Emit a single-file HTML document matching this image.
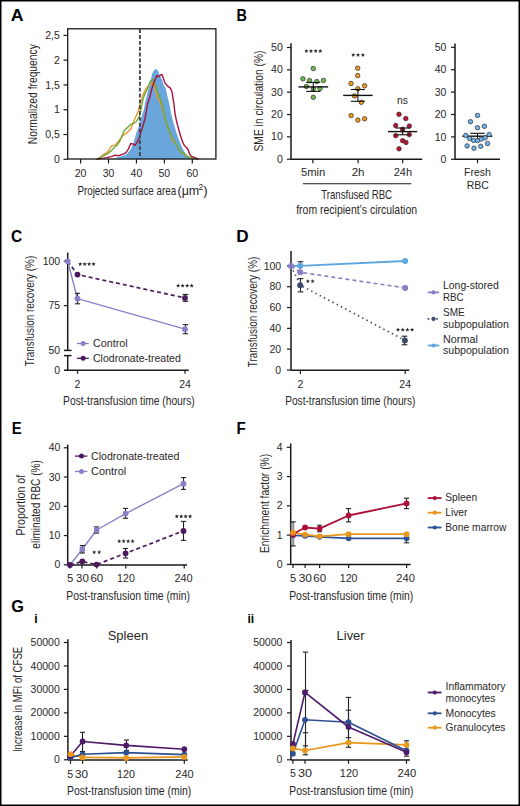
<!DOCTYPE html>
<html><head><meta charset="utf-8"><style>
html,body{margin:0;padding:0;background:#fff;}
svg{display:block;}
text{font-family:"Liberation Sans", sans-serif;}
</style></head><body>
<svg width="520" height="806" viewBox="0 0 520 806">
<rect width="520" height="806" fill="#fff"/>
<text x="10.70" y="20.80" font-size="16" text-anchor="start" fill="#000" font-weight="bold" textLength="12.80" lengthAdjust="spacingAndGlyphs" >A</text>
<path d="M 108.0,159.3 L 112.0,159.0 L 119.0,157.1 L 123.0,155.8 L 126.7,154.2 L 130.6,149.4 L 133.5,142.7 L 136.3,133.1 L 139.2,125.4 L 142.1,114.8 L 143.7,110.0 L 145.5,101.0 L 147.5,92.7 L 150.4,82.1 L 152.3,73.5 L 154.2,70.1 L 156.2,69.1 L 158.1,71.1 L 159.0,73.5 L 160.5,76.5 L 161.9,79.2 L 163.8,85.0 L 165.8,88.8 L 167.7,97.5 L 169.6,105.2 L 171.3,114.6 L 173.3,122.3 L 175.7,130.0 L 178.1,137.7 L 180.5,143.5 L 182.9,149.2 L 185.8,154.0 L 188.7,157.4 L 191.5,159.0 L 192.5,159.3 Z" fill="#6aa6dc"/>
<polyline points="97.00,159.30 99.80,158.10 102.70,155.20 105.60,153.30 108.50,151.30 110.40,147.50 112.30,145.60 115.20,145.10 118.10,141.70 121.00,137.90 123.80,135.00 127.70,132.10 130.60,129.20 132.50,124.40 134.40,119.60 136.30,115.80 138.30,111.00 138.80,109.00 140.80,102.30 142.70,95.60 144.60,91.30 146.50,87.90 149.40,85.50 151.30,83.60 152.80,82.60 153.80,84.50 155.20,88.80 156.60,94.60 157.60,98.50 159.00,99.40 160.50,103.30 161.30,105.00 163.70,113.70 165.10,119.40 167.00,125.20 169.90,132.90 172.30,139.60 173.80,142.00 175.70,143.50 178.60,148.80 181.00,152.60 183.80,154.00 186.70,156.40 190.60,157.90 197.30,159.00 199.00,159.20" fill="none" stroke="#e8952a" stroke-width="1.4" stroke-linejoin="round" />
<polyline points="96.00,159.30 97.90,158.60 102.70,156.20 107.50,153.80 111.30,150.90 114.20,147.50 117.10,145.10 120.00,140.80 121.90,136.00 123.80,131.20 126.70,128.30 130.60,124.40 133.50,123.50 136.30,121.50 139.20,116.70 140.80,111.00 142.70,100.40 144.60,94.60 147.50,88.80 149.40,83.10 151.30,80.20 152.80,79.20 154.20,81.20 155.70,86.00 157.60,91.70 159.50,96.50 161.40,102.30 162.50,106.00 164.10,114.60 166.50,123.30 169.40,131.00 172.80,138.70 175.70,143.50 178.60,148.30 181.00,152.10 183.80,153.60 186.70,156.00 190.60,157.70 195.40,158.90 197.00,159.20" fill="none" stroke="#6aab3b" stroke-width="1.4" stroke-linejoin="round" />
<polyline points="97.00,159.20 100.80,158.60 106.50,157.60 111.30,156.60 115.20,155.20 119.00,155.70 122.90,154.20 125.80,152.80 128.20,149.40 130.60,143.70 132.50,143.70 134.90,145.40 137.30,142.20 139.20,137.90 141.20,131.20 143.10,125.40 145.00,118.70 146.50,110.00 147.50,104.00 149.40,98.50 151.30,90.80 153.30,84.00 155.20,79.20 157.10,75.40 158.60,76.80 160.50,74.90 161.90,74.40 163.40,78.30 164.80,82.60 166.70,85.00 168.70,86.90 170.60,88.40 172.00,91.70 173.00,98.50 173.90,103.30 174.60,110.00 175.20,114.60 176.60,121.30 178.60,129.00 180.50,135.80 182.40,141.50 184.30,145.40 186.30,147.30 188.20,149.70 189.60,154.00 191.50,156.40 194.40,157.40 197.30,158.70 199.00,159.20" fill="none" stroke="#a8123f" stroke-width="1.4" stroke-linejoin="round" />
<line x1="139.90" y1="29.20" x2="139.90" y2="158.50" stroke="#454545" stroke-width="1.9" stroke-dasharray="3.9,1.95"/>
<rect x="67.7" y="28.8" width="148.2" height="130.2" fill="none" stroke="#1a1a1a" stroke-width="1.3"/>
<line x1="63.50" y1="159.30" x2="67.70" y2="159.30" stroke="#1a1a1a" stroke-width="1.2" />
<text x="59.80" y="162.90" font-size="10.5" text-anchor="end" fill="#2a2728" >0</text>
<line x1="63.50" y1="134.52" x2="67.70" y2="134.52" stroke="#1a1a1a" stroke-width="1.2" />
<text x="59.80" y="138.12" font-size="10.5" text-anchor="end" fill="#2a2728" >0,5</text>
<line x1="63.50" y1="109.74" x2="67.70" y2="109.74" stroke="#1a1a1a" stroke-width="1.2" />
<text x="59.80" y="113.34" font-size="10.5" text-anchor="end" fill="#2a2728" >1</text>
<line x1="63.50" y1="84.96" x2="67.70" y2="84.96" stroke="#1a1a1a" stroke-width="1.2" />
<text x="59.80" y="88.56" font-size="10.5" text-anchor="end" fill="#2a2728" >1,5</text>
<line x1="63.50" y1="60.18" x2="67.70" y2="60.18" stroke="#1a1a1a" stroke-width="1.2" />
<text x="59.80" y="63.78" font-size="10.5" text-anchor="end" fill="#2a2728" >2</text>
<line x1="63.50" y1="35.40" x2="67.70" y2="35.40" stroke="#1a1a1a" stroke-width="1.2" />
<text x="59.80" y="39.00" font-size="10.5" text-anchor="end" fill="#2a2728" >2,5</text>
<line x1="80.60" y1="159.00" x2="80.60" y2="163.50" stroke="#1a1a1a" stroke-width="1.2" />
<text x="80.60" y="177.00" font-size="10.5" text-anchor="middle" fill="#2a2728" >20</text>
<line x1="108.52" y1="159.00" x2="108.52" y2="163.50" stroke="#1a1a1a" stroke-width="1.2" />
<text x="108.52" y="177.00" font-size="10.5" text-anchor="middle" fill="#2a2728" >30</text>
<line x1="136.45" y1="159.00" x2="136.45" y2="163.50" stroke="#1a1a1a" stroke-width="1.2" />
<text x="136.45" y="177.00" font-size="10.5" text-anchor="middle" fill="#2a2728" >40</text>
<line x1="164.38" y1="159.00" x2="164.38" y2="163.50" stroke="#1a1a1a" stroke-width="1.2" />
<text x="164.38" y="177.00" font-size="10.5" text-anchor="middle" fill="#2a2728" >50</text>
<line x1="192.30" y1="159.00" x2="192.30" y2="163.50" stroke="#1a1a1a" stroke-width="1.2" />
<text x="192.30" y="177.00" font-size="10.5" text-anchor="middle" fill="#2a2728" >60</text>
<text x="77.40" y="195.00" font-size="13.2" text-anchor="start" fill="#2a2728" textLength="98.80" lengthAdjust="spacingAndGlyphs" >Projected surface area</text>
<text x="177.50" y="195.00" font-size="13.2" text-anchor="start" fill="#2a2728" textLength="21.70" lengthAdjust="spacingAndGlyphs" >(μm</text>
<text x="198.60" y="190.00" font-size="8.5" text-anchor="start" fill="#2a2728" >2</text>
<text x="203.20" y="195.00" font-size="13.2" text-anchor="start" fill="#2a2728" >)</text>
<text x="37.00" y="94.20" font-size="13.6" text-anchor="middle" fill="#2a2728" transform="rotate(-90 37.00 94.20)" textLength="100.00" lengthAdjust="spacingAndGlyphs">Normalized frequency</text>
<text x="236.40" y="20.80" font-size="16" text-anchor="start" fill="#000" font-weight="bold" textLength="10.40" lengthAdjust="spacingAndGlyphs" >B</text>
<line x1="291.00" y1="43.30" x2="291.00" y2="159.20" stroke="#1a1a1a" stroke-width="1.5" />
<line x1="291.00" y1="159.20" x2="422.20" y2="159.20" stroke="#1a1a1a" stroke-width="1.5" />
<line x1="287.00" y1="159.20" x2="291.00" y2="159.20" stroke="#1a1a1a" stroke-width="1.2" />
<text x="282.80" y="162.80" font-size="10.5" text-anchor="end" fill="#2a2728" >0</text>
<line x1="287.00" y1="136.86" x2="291.00" y2="136.86" stroke="#1a1a1a" stroke-width="1.2" />
<text x="282.80" y="140.46" font-size="10.5" text-anchor="end" fill="#2a2728" >10</text>
<line x1="287.00" y1="114.52" x2="291.00" y2="114.52" stroke="#1a1a1a" stroke-width="1.2" />
<text x="282.80" y="118.12" font-size="10.5" text-anchor="end" fill="#2a2728" >20</text>
<line x1="287.00" y1="92.18" x2="291.00" y2="92.18" stroke="#1a1a1a" stroke-width="1.2" />
<text x="282.80" y="95.78" font-size="10.5" text-anchor="end" fill="#2a2728" >30</text>
<line x1="287.00" y1="69.84" x2="291.00" y2="69.84" stroke="#1a1a1a" stroke-width="1.2" />
<text x="282.80" y="73.44" font-size="10.5" text-anchor="end" fill="#2a2728" >40</text>
<line x1="287.00" y1="47.50" x2="291.00" y2="47.50" stroke="#1a1a1a" stroke-width="1.2" />
<text x="282.80" y="51.10" font-size="10.5" text-anchor="end" fill="#2a2728" >50</text>
<line x1="312.90" y1="159.20" x2="312.90" y2="163.30" stroke="#1a1a1a" stroke-width="1.2" />
<line x1="358.10" y1="159.20" x2="358.10" y2="163.30" stroke="#1a1a1a" stroke-width="1.2" />
<line x1="402.70" y1="159.20" x2="402.70" y2="163.30" stroke="#1a1a1a" stroke-width="1.2" />
<text x="300.95" y="176.00" font-size="10.5" text-anchor="start" fill="#2a2728" textLength="24.35" lengthAdjust="spacingAndGlyphs" >5min</text>
<text x="351.70" y="176.00" font-size="10.5" text-anchor="start" fill="#2a2728" textLength="12.85" lengthAdjust="spacingAndGlyphs" >2h</text>
<text x="393.70" y="176.00" font-size="10.5" text-anchor="start" fill="#2a2728" textLength="18.35" lengthAdjust="spacingAndGlyphs" >24h</text>
<line x1="303.00" y1="183.75" x2="411.25" y2="183.75" stroke="#1a1a1a" stroke-width="1.2" />
<text x="321.20" y="199.00" font-size="12.6" text-anchor="start" fill="#2a2728" textLength="70.85" lengthAdjust="spacingAndGlyphs" >Transfused RBC</text>
<text x="296.20" y="214.00" font-size="12.6" text-anchor="start" fill="#2a2728" textLength="120.85" lengthAdjust="spacingAndGlyphs" >from recipient’s circulation</text>
<text x="262.80" y="101.00" font-size="13.6" text-anchor="middle" fill="#2a2728" transform="rotate(-90 262.80 101.00)" textLength="101.00" lengthAdjust="spacingAndGlyphs">SME in circulation (%)</text>
<circle cx="313.30" cy="68.50" r="2.25" fill="#6cbd49" stroke="#2b2b2b" stroke-width="0.7"/>
<circle cx="302.90" cy="78.80" r="2.25" fill="#6cbd49" stroke="#2b2b2b" stroke-width="0.7"/>
<circle cx="309.60" cy="80.60" r="2.25" fill="#6cbd49" stroke="#2b2b2b" stroke-width="0.7"/>
<circle cx="316.80" cy="81.50" r="2.25" fill="#6cbd49" stroke="#2b2b2b" stroke-width="0.7"/>
<circle cx="323.50" cy="80.40" r="2.25" fill="#6cbd49" stroke="#2b2b2b" stroke-width="0.7"/>
<circle cx="306.40" cy="86.50" r="2.25" fill="#6cbd49" stroke="#2b2b2b" stroke-width="0.7"/>
<circle cx="313.30" cy="89.10" r="2.25" fill="#6cbd49" stroke="#2b2b2b" stroke-width="0.7"/>
<circle cx="320.00" cy="88.60" r="2.25" fill="#6cbd49" stroke="#2b2b2b" stroke-width="0.7"/>
<circle cx="313.30" cy="97.30" r="2.25" fill="#6cbd49" stroke="#2b2b2b" stroke-width="0.7"/>
<circle cx="357.70" cy="68.20" r="2.25" fill="#f29a1c" stroke="#2b2b2b" stroke-width="0.7"/>
<circle cx="357.70" cy="75.60" r="2.25" fill="#f29a1c" stroke="#2b2b2b" stroke-width="0.7"/>
<circle cx="351.00" cy="83.50" r="2.25" fill="#f29a1c" stroke="#2b2b2b" stroke-width="0.7"/>
<circle cx="364.60" cy="85.80" r="2.25" fill="#f29a1c" stroke="#2b2b2b" stroke-width="0.7"/>
<circle cx="357.90" cy="88.80" r="2.25" fill="#f29a1c" stroke="#2b2b2b" stroke-width="0.7"/>
<circle cx="354.50" cy="95.90" r="2.25" fill="#f29a1c" stroke="#2b2b2b" stroke-width="0.7"/>
<circle cx="361.30" cy="102.30" r="2.25" fill="#f29a1c" stroke="#2b2b2b" stroke-width="0.7"/>
<circle cx="351.10" cy="115.60" r="2.25" fill="#f29a1c" stroke="#2b2b2b" stroke-width="0.7"/>
<circle cx="357.90" cy="120.10" r="2.25" fill="#f29a1c" stroke="#2b2b2b" stroke-width="0.7"/>
<circle cx="364.60" cy="118.80" r="2.25" fill="#f29a1c" stroke="#2b2b2b" stroke-width="0.7"/>
<circle cx="399.00" cy="114.30" r="2.25" fill="#c0102f" stroke="#2b2b2b" stroke-width="0.7"/>
<circle cx="405.80" cy="118.60" r="2.25" fill="#c0102f" stroke="#2b2b2b" stroke-width="0.7"/>
<circle cx="395.70" cy="125.50" r="2.25" fill="#c0102f" stroke="#2b2b2b" stroke-width="0.7"/>
<circle cx="409.30" cy="126.10" r="2.25" fill="#c0102f" stroke="#2b2b2b" stroke-width="0.7"/>
<circle cx="402.60" cy="129.30" r="2.25" fill="#c0102f" stroke="#2b2b2b" stroke-width="0.7"/>
<circle cx="395.70" cy="135.70" r="2.25" fill="#c0102f" stroke="#2b2b2b" stroke-width="0.7"/>
<circle cx="409.30" cy="134.60" r="2.25" fill="#c0102f" stroke="#2b2b2b" stroke-width="0.7"/>
<circle cx="402.60" cy="140.70" r="2.25" fill="#c0102f" stroke="#2b2b2b" stroke-width="0.7"/>
<circle cx="406.00" cy="142.40" r="2.25" fill="#c0102f" stroke="#2b2b2b" stroke-width="0.7"/>
<circle cx="399.00" cy="148.80" r="2.25" fill="#c0102f" stroke="#2b2b2b" stroke-width="0.7"/>
<line x1="298.45" y1="86.90" x2="328.15" y2="86.90" stroke="#111" stroke-width="1.4" />
<line x1="313.30" y1="82.40" x2="313.30" y2="91.40" stroke="#111" stroke-width="1.1" />
<line x1="306.20" y1="82.40" x2="320.40" y2="82.40" stroke="#111" stroke-width="1.1" />
<line x1="306.20" y1="91.40" x2="320.40" y2="91.40" stroke="#111" stroke-width="1.1" />
<line x1="343.15" y1="95.40" x2="372.65" y2="95.40" stroke="#111" stroke-width="1.4" />
<line x1="357.90" y1="89.50" x2="357.90" y2="101.30" stroke="#111" stroke-width="1.1" />
<line x1="350.90" y1="89.50" x2="364.90" y2="89.50" stroke="#111" stroke-width="1.1" />
<line x1="350.90" y1="101.30" x2="364.90" y2="101.30" stroke="#111" stroke-width="1.1" />
<line x1="387.95" y1="131.60" x2="417.25" y2="131.60" stroke="#111" stroke-width="1.4" />
<line x1="402.60" y1="128.00" x2="402.60" y2="134.80" stroke="#111" stroke-width="1.1" />
<line x1="395.40" y1="128.00" x2="409.80" y2="128.00" stroke="#111" stroke-width="1.1" />
<line x1="395.40" y1="134.80" x2="409.80" y2="134.80" stroke="#111" stroke-width="1.1" />
<polygon points="306.40,48.90 306.98,50.30 308.49,50.42 307.34,51.41 307.69,52.88 306.40,52.09 305.11,52.88 305.46,51.41 304.31,50.42 305.82,50.30" fill="#2a2a2a"/>
<polygon points="311.03,48.90 311.62,50.30 313.13,50.42 311.97,51.41 312.33,52.88 311.03,52.09 309.74,52.88 310.09,51.41 308.94,50.42 310.45,50.30" fill="#2a2a2a"/>
<polygon points="315.67,48.90 316.25,50.30 317.76,50.42 316.61,51.41 316.96,52.88 315.67,52.09 314.37,52.88 314.73,51.41 313.57,50.42 315.08,50.30" fill="#2a2a2a"/>
<polygon points="320.30,48.90 320.88,50.30 322.39,50.42 321.24,51.41 321.59,52.88 320.30,52.09 319.01,52.88 319.36,51.41 318.21,50.42 319.72,50.30" fill="#2a2a2a"/>
<polygon points="353.20,52.80 353.78,54.20 355.29,54.32 354.14,55.31 354.49,56.78 353.20,55.99 351.91,56.78 352.26,55.31 351.11,54.32 352.62,54.20" fill="#2a2a2a"/>
<polygon points="358.05,52.80 358.63,54.20 360.14,54.32 358.99,55.31 359.34,56.78 358.05,55.99 356.76,56.78 357.11,55.31 355.96,54.32 357.47,54.20" fill="#2a2a2a"/>
<polygon points="362.90,52.80 363.48,54.20 364.99,54.32 363.84,55.31 364.19,56.78 362.90,55.99 361.61,56.78 361.96,55.31 360.81,54.32 362.32,54.20" fill="#2a2a2a"/>
<text x="397.10" y="104.00" font-size="10.2" text-anchor="start" fill="#2a2728" textLength="10.90" lengthAdjust="spacingAndGlyphs" >ns</text>
<line x1="455.00" y1="43.60" x2="455.00" y2="159.30" stroke="#1a1a1a" stroke-width="1.5" />
<line x1="455.00" y1="159.30" x2="500.00" y2="159.30" stroke="#1a1a1a" stroke-width="1.5" />
<line x1="451.00" y1="159.30" x2="455.00" y2="159.30" stroke="#1a1a1a" stroke-width="1.2" />
<text x="446.40" y="162.90" font-size="10.5" text-anchor="end" fill="#2a2728" >0</text>
<line x1="451.00" y1="136.90" x2="455.00" y2="136.90" stroke="#1a1a1a" stroke-width="1.2" />
<text x="446.40" y="140.50" font-size="10.5" text-anchor="end" fill="#2a2728" >10</text>
<line x1="451.00" y1="114.50" x2="455.00" y2="114.50" stroke="#1a1a1a" stroke-width="1.2" />
<text x="446.40" y="118.10" font-size="10.5" text-anchor="end" fill="#2a2728" >20</text>
<line x1="451.00" y1="92.10" x2="455.00" y2="92.10" stroke="#1a1a1a" stroke-width="1.2" />
<text x="446.40" y="95.70" font-size="10.5" text-anchor="end" fill="#2a2728" >30</text>
<line x1="451.00" y1="69.70" x2="455.00" y2="69.70" stroke="#1a1a1a" stroke-width="1.2" />
<text x="446.40" y="73.30" font-size="10.5" text-anchor="end" fill="#2a2728" >40</text>
<line x1="451.00" y1="47.30" x2="455.00" y2="47.30" stroke="#1a1a1a" stroke-width="1.2" />
<text x="446.40" y="50.90" font-size="10.5" text-anchor="end" fill="#2a2728" >50</text>
<line x1="477.50" y1="159.30" x2="477.50" y2="163.30" stroke="#1a1a1a" stroke-width="1.2" />
<text x="464.00" y="176.00" font-size="10.5" text-anchor="start" fill="#2a2728" textLength="26.80" lengthAdjust="spacingAndGlyphs" >Fresh</text>
<text x="466.70" y="189.00" font-size="10.5" text-anchor="start" fill="#2a2728" textLength="22.10" lengthAdjust="spacingAndGlyphs" >RBC</text>
<line x1="462.30" y1="136.20" x2="492.30" y2="136.20" stroke="#111" stroke-width="1.4" />
<line x1="477.50" y1="133.30" x2="477.50" y2="139.00" stroke="#111" stroke-width="1.1" />
<line x1="470.20" y1="133.30" x2="484.80" y2="133.30" stroke="#111" stroke-width="1.1" />
<circle cx="477.50" cy="115.40" r="2.25" fill="#72b4ea" stroke="#2b2b2b" stroke-width="0.7"/>
<circle cx="470.50" cy="121.70" r="2.25" fill="#72b4ea" stroke="#2b2b2b" stroke-width="0.7"/>
<circle cx="484.40" cy="126.30" r="2.25" fill="#72b4ea" stroke="#2b2b2b" stroke-width="0.7"/>
<circle cx="477.50" cy="127.70" r="2.25" fill="#72b4ea" stroke="#2b2b2b" stroke-width="0.7"/>
<circle cx="465.80" cy="135.40" r="2.25" fill="#72b4ea" stroke="#2b2b2b" stroke-width="0.7"/>
<circle cx="489.10" cy="134.60" r="2.25" fill="#72b4ea" stroke="#2b2b2b" stroke-width="0.7"/>
<circle cx="469.60" cy="138.50" r="2.25" fill="#72b4ea" stroke="#2b2b2b" stroke-width="0.7"/>
<circle cx="473.50" cy="140.40" r="2.25" fill="#72b4ea" stroke="#2b2b2b" stroke-width="0.7"/>
<circle cx="477.50" cy="140.60" r="2.25" fill="#72b4ea" stroke="#2b2b2b" stroke-width="0.7"/>
<circle cx="481.40" cy="139.10" r="2.25" fill="#72b4ea" stroke="#2b2b2b" stroke-width="0.7"/>
<circle cx="485.20" cy="137.80" r="2.25" fill="#72b4ea" stroke="#2b2b2b" stroke-width="0.7"/>
<circle cx="487.50" cy="143.50" r="2.25" fill="#72b4ea" stroke="#2b2b2b" stroke-width="0.7"/>
<circle cx="467.10" cy="145.90" r="2.25" fill="#72b4ea" stroke="#2b2b2b" stroke-width="0.7"/>
<circle cx="474.00" cy="148.20" r="2.25" fill="#72b4ea" stroke="#2b2b2b" stroke-width="0.7"/>
<circle cx="480.80" cy="146.30" r="2.25" fill="#72b4ea" stroke="#2b2b2b" stroke-width="0.7"/>
<text x="11.10" y="242.30" font-size="16" text-anchor="start" fill="#000" font-weight="bold" textLength="11.20" lengthAdjust="spacingAndGlyphs" >C</text>
<line x1="67.70" y1="252.50" x2="67.70" y2="350.40" stroke="#1a1a1a" stroke-width="1.5" />
<line x1="67.70" y1="355.60" x2="67.70" y2="370.20" stroke="#1a1a1a" stroke-width="1.5" />
<line x1="64.00" y1="350.40" x2="71.50" y2="350.40" stroke="#1a1a1a" stroke-width="1.5" />
<line x1="64.00" y1="355.60" x2="71.50" y2="355.60" stroke="#1a1a1a" stroke-width="1.5" />
<line x1="64.00" y1="370.20" x2="188.75" y2="370.20" stroke="#1a1a1a" stroke-width="1.5" />
<line x1="63.80" y1="261.20" x2="67.70" y2="261.20" stroke="#1a1a1a" stroke-width="1.2" />
<line x1="63.80" y1="305.60" x2="67.70" y2="305.60" stroke="#1a1a1a" stroke-width="1.2" />
<text x="60.20" y="264.80" font-size="10.5" text-anchor="end" fill="#2a2728" >100</text>
<text x="60.20" y="309.20" font-size="10.5" text-anchor="end" fill="#2a2728" >75</text>
<text x="60.20" y="354.00" font-size="10.5" text-anchor="end" fill="#2a2728" >50</text>
<text x="60.20" y="373.80" font-size="10.5" text-anchor="end" fill="#2a2728" >0</text>
<line x1="77.50" y1="370.20" x2="77.50" y2="373.80" stroke="#1a1a1a" stroke-width="1.2" />
<line x1="185.00" y1="370.20" x2="185.00" y2="373.80" stroke="#1a1a1a" stroke-width="1.2" />
<text x="77.50" y="388.00" font-size="10.5" text-anchor="middle" fill="#2a2728" >2</text>
<text x="185.00" y="388.00" font-size="10.5" text-anchor="middle" fill="#2a2728" >24</text>
<text x="63.10" y="405.00" font-size="13.2" text-anchor="start" fill="#2a2728" textLength="131.70" lengthAdjust="spacingAndGlyphs" >Post-transfusion time (hours)</text>
<text x="34.00" y="311.00" font-size="13.6" text-anchor="middle" fill="#2a2728" transform="rotate(-90 34.00 311.00)" textLength="110.40" lengthAdjust="spacingAndGlyphs">Transfusion recovery (%)</text>
<polyline points="67.70,261.20 77.50,298.70 185.00,329.20" fill="none" stroke="#8b80c8" stroke-width="1.4" stroke-linejoin="round" />
<polyline points="67.70,261.20 77.50,274.60 185.00,297.90" fill="none" stroke="#4a1a5c" stroke-width="1.7" stroke-linejoin="round" stroke-dasharray="4,3"/>
<line x1="77.50" y1="293.30" x2="77.50" y2="303.80" stroke="#222" stroke-width="1.1" />
<line x1="74.90" y1="293.30" x2="80.10" y2="293.30" stroke="#222" stroke-width="1.1" />
<line x1="74.90" y1="303.80" x2="80.10" y2="303.80" stroke="#222" stroke-width="1.1" />
<line x1="185.50" y1="324.60" x2="185.50" y2="333.70" stroke="#222" stroke-width="1.1" />
<line x1="182.80" y1="324.60" x2="188.20" y2="324.60" stroke="#222" stroke-width="1.1" />
<line x1="182.80" y1="333.70" x2="188.20" y2="333.70" stroke="#222" stroke-width="1.1" />
<line x1="185.50" y1="294.40" x2="185.50" y2="301.30" stroke="#222" stroke-width="1.1" />
<line x1="182.70" y1="294.40" x2="188.30" y2="294.40" stroke="#222" stroke-width="1.1" />
<line x1="182.70" y1="301.30" x2="188.30" y2="301.30" stroke="#222" stroke-width="1.1" />
<circle cx="67.70" cy="261.20" r="2.9" fill="#8b80c8" stroke="none" stroke-width="0.6"/>
<circle cx="77.50" cy="298.70" r="2.9" fill="#8b80c8" stroke="none" stroke-width="0.6"/>
<circle cx="185.00" cy="329.20" r="2.9" fill="#8b80c8" stroke="none" stroke-width="0.6"/>
<circle cx="77.50" cy="274.60" r="2.9" fill="#4a1a5c" stroke="none" stroke-width="0.6"/>
<circle cx="185.00" cy="297.90" r="2.9" fill="#4a1a5c" stroke="none" stroke-width="0.6"/>
<polygon points="80.20,261.90 80.78,263.30 82.29,263.42 81.14,264.41 81.49,265.88 80.20,265.09 78.91,265.88 79.26,264.41 78.11,263.42 79.62,263.30" fill="#2a2a2a"/>
<polygon points="84.67,261.90 85.25,263.30 86.76,263.42 85.61,264.41 85.96,265.88 84.67,265.09 83.37,265.88 83.73,264.41 82.57,263.42 84.08,263.30" fill="#2a2a2a"/>
<polygon points="89.13,261.90 89.72,263.30 91.23,263.42 90.07,264.41 90.43,265.88 89.13,265.09 87.84,265.88 88.19,264.41 87.04,263.42 88.55,263.30" fill="#2a2a2a"/>
<polygon points="93.60,261.90 94.18,263.30 95.69,263.42 94.54,264.41 94.89,265.88 93.60,265.09 92.31,265.88 92.66,264.41 91.51,263.42 93.02,263.30" fill="#2a2a2a"/>
<polygon points="178.10,283.50 178.68,284.90 180.19,285.02 179.04,286.01 179.39,287.48 178.10,286.69 176.81,287.48 177.16,286.01 176.01,285.02 177.52,284.90" fill="#2a2a2a"/>
<polygon points="182.63,283.50 183.22,284.90 184.73,285.02 183.57,286.01 183.93,287.48 182.63,286.69 181.34,287.48 181.69,286.01 180.54,285.02 182.05,284.90" fill="#2a2a2a"/>
<polygon points="187.17,283.50 187.75,284.90 189.26,285.02 188.11,286.01 188.46,287.48 187.17,286.69 185.87,287.48 186.23,286.01 185.07,285.02 186.58,284.90" fill="#2a2a2a"/>
<polygon points="191.70,283.50 192.28,284.90 193.79,285.02 192.64,286.01 192.99,287.48 191.70,286.69 190.41,287.48 190.76,286.01 189.61,285.02 191.12,284.90" fill="#2a2a2a"/>
<line x1="76.90" y1="343.50" x2="88.80" y2="343.50" stroke="#8b80c8" stroke-width="1.3" />
<circle cx="83.10" cy="343.50" r="2.5" fill="#8b80c8" stroke="none" stroke-width="0.6"/>
<line x1="76.90" y1="358.30" x2="88.80" y2="358.30" stroke="#4a1a5c" stroke-width="1.3" />
<circle cx="83.10" cy="358.30" r="2.5" fill="#4a1a5c" stroke="none" stroke-width="0.6"/>
<text x="93.00" y="347.00" font-size="11.2" text-anchor="start" fill="#2a2728" textLength="34.70" lengthAdjust="spacingAndGlyphs" >Control</text>
<text x="93.00" y="362.00" font-size="11.2" text-anchor="start" fill="#2a2728" textLength="87.80" lengthAdjust="spacingAndGlyphs" >Clodronate-treated</text>
<text x="236.30" y="242.30" font-size="16" text-anchor="start" fill="#000" font-weight="bold" textLength="12.40" lengthAdjust="spacingAndGlyphs" >D</text>
<line x1="291.00" y1="251.00" x2="291.00" y2="370.20" stroke="#1a1a1a" stroke-width="1.5" />
<line x1="291.00" y1="370.20" x2="409.30" y2="370.20" stroke="#1a1a1a" stroke-width="1.5" />
<line x1="287.00" y1="370.00" x2="291.00" y2="370.00" stroke="#1a1a1a" stroke-width="1.2" />
<text x="281.20" y="373.60" font-size="10.5" text-anchor="end" fill="#2a2728" >0</text>
<line x1="287.00" y1="349.18" x2="291.00" y2="349.18" stroke="#1a1a1a" stroke-width="1.2" />
<text x="281.20" y="352.78" font-size="10.5" text-anchor="end" fill="#2a2728" >20</text>
<line x1="287.00" y1="328.36" x2="291.00" y2="328.36" stroke="#1a1a1a" stroke-width="1.2" />
<text x="281.20" y="331.96" font-size="10.5" text-anchor="end" fill="#2a2728" >40</text>
<line x1="287.00" y1="307.54" x2="291.00" y2="307.54" stroke="#1a1a1a" stroke-width="1.2" />
<text x="281.20" y="311.14" font-size="10.5" text-anchor="end" fill="#2a2728" >60</text>
<line x1="287.00" y1="286.72" x2="291.00" y2="286.72" stroke="#1a1a1a" stroke-width="1.2" />
<text x="281.20" y="290.32" font-size="10.5" text-anchor="end" fill="#2a2728" >80</text>
<line x1="287.00" y1="265.90" x2="291.00" y2="265.90" stroke="#1a1a1a" stroke-width="1.2" />
<text x="281.20" y="269.50" font-size="10.5" text-anchor="end" fill="#2a2728" >100</text>
<line x1="300.40" y1="370.20" x2="300.40" y2="373.90" stroke="#1a1a1a" stroke-width="1.2" />
<line x1="405.20" y1="370.20" x2="405.20" y2="373.90" stroke="#1a1a1a" stroke-width="1.2" />
<text x="300.40" y="387.70" font-size="10.5" text-anchor="middle" fill="#2a2728" >2</text>
<text x="405.20" y="387.70" font-size="10.5" text-anchor="middle" fill="#2a2728" >24</text>
<text x="285.20" y="405.00" font-size="13.2" text-anchor="start" fill="#2a2728" textLength="130.20" lengthAdjust="spacingAndGlyphs" >Post-transfusion time (hours)</text>
<text x="256.90" y="312.00" font-size="13.6" text-anchor="middle" fill="#2a2728" transform="rotate(-90 256.90 312.00)" textLength="110.60" lengthAdjust="spacingAndGlyphs">Transfusion recovery (%)</text>
<polyline points="291.00,266.00 300.40,265.80 405.20,261.00" fill="none" stroke="#5ea6df" stroke-width="1.8" stroke-linejoin="round" />
<polyline points="291.00,266.00 300.40,272.30 405.20,287.90" fill="none" stroke="#8a7dc6" stroke-width="1.6" stroke-linejoin="round" stroke-dasharray="4,3.1"/>
<polyline points="291.00,266.00 300.40,285.20 405.20,340.50" fill="none" stroke="#3c4a68" stroke-width="1.7" stroke-linejoin="round" stroke-dasharray="1.4,3.4" stroke-linecap="butt"/>
<line x1="300.50" y1="261.70" x2="300.50" y2="269.50" stroke="#222" stroke-width="1.1" />
<line x1="297.60" y1="261.70" x2="303.40" y2="261.70" stroke="#222" stroke-width="1.1" />
<line x1="300.50" y1="278.60" x2="300.50" y2="291.90" stroke="#222" stroke-width="1.1" />
<line x1="297.60" y1="278.60" x2="303.40" y2="278.60" stroke="#222" stroke-width="1.1" />
<line x1="297.60" y1="291.90" x2="303.40" y2="291.90" stroke="#222" stroke-width="1.1" />
<line x1="404.50" y1="336.20" x2="404.50" y2="344.80" stroke="#222" stroke-width="1.1" />
<line x1="401.65" y1="336.20" x2="407.35" y2="336.20" stroke="#222" stroke-width="1.1" />
<line x1="401.65" y1="344.80" x2="407.35" y2="344.80" stroke="#222" stroke-width="1.1" />
<circle cx="291.00" cy="266.00" r="3.0" fill="#8a7dc6" stroke="none" stroke-width="0.6"/>
<circle cx="300.20" cy="265.80" r="3.0" fill="#5ea6df" stroke="none" stroke-width="0.6"/>
<circle cx="300.20" cy="272.30" r="3.0" fill="#8a7dc6" stroke="none" stroke-width="0.6"/>
<circle cx="300.20" cy="285.20" r="3.0" fill="#3c4a68" stroke="none" stroke-width="0.6"/>
<circle cx="405.20" cy="261.00" r="3.0" fill="#5ea6df" stroke="none" stroke-width="0.6"/>
<circle cx="405.20" cy="287.90" r="3.0" fill="#8a7dc6" stroke="none" stroke-width="0.6"/>
<circle cx="404.90" cy="340.50" r="3.0" fill="#3c4a68" stroke="none" stroke-width="0.6"/>
<polygon points="307.90,279.00 308.48,280.40 309.99,280.52 308.84,281.51 309.19,282.98 307.90,282.19 306.61,282.98 306.96,281.51 305.81,280.52 307.32,280.40" fill="#2a2a2a"/>
<polygon points="312.60,279.00 313.18,280.40 314.69,280.52 313.54,281.51 313.89,282.98 312.60,282.19 311.31,282.98 311.66,281.51 310.51,280.52 312.02,280.40" fill="#2a2a2a"/>
<polygon points="398.00,327.50 398.58,328.90 400.09,329.02 398.94,330.01 399.29,331.48 398.00,330.69 396.71,331.48 397.06,330.01 395.91,329.02 397.42,328.90" fill="#2a2a2a"/>
<polygon points="402.70,327.50 403.28,328.90 404.79,329.02 403.64,330.01 403.99,331.48 402.70,330.69 401.41,331.48 401.76,330.01 400.61,329.02 402.12,328.90" fill="#2a2a2a"/>
<polygon points="407.40,327.50 407.98,328.90 409.49,329.02 408.34,330.01 408.69,331.48 407.40,330.69 406.11,331.48 406.46,330.01 405.31,329.02 406.82,328.90" fill="#2a2a2a"/>
<polygon points="412.10,327.50 412.68,328.90 414.19,329.02 413.04,330.01 413.39,331.48 412.10,330.69 410.81,331.48 411.16,330.01 410.01,329.02 411.52,328.90" fill="#2a2a2a"/>
<line x1="427.70" y1="292.40" x2="439.20" y2="292.40" stroke="#8a7dc6" stroke-width="1.8" />
<circle cx="433.50" cy="292.40" r="2.1" fill="#8a7dc6" stroke="none" stroke-width="0.6"/>
<line x1="427.70" y1="318.90" x2="439.20" y2="318.90" stroke="#3c4a68" stroke-width="1.8" stroke-dasharray="1.6,2.6"/>
<circle cx="433.50" cy="318.90" r="2.1" fill="#3c4a68" stroke="none" stroke-width="0.6"/>
<line x1="427.70" y1="345.50" x2="439.20" y2="345.50" stroke="#5ea6df" stroke-width="1.8" />
<circle cx="433.50" cy="345.50" r="2.1" fill="#5ea6df" stroke="none" stroke-width="0.6"/>
<text x="443.00" y="289.00" font-size="10.1" text-anchor="start" fill="#2a2728" textLength="55.70" lengthAdjust="spacingAndGlyphs" >Long-stored</text>
<text x="443.00" y="301.00" font-size="10.1" text-anchor="start" fill="#2a2728" textLength="20.70" lengthAdjust="spacingAndGlyphs" >RBC</text>
<text x="443.00" y="316.00" font-size="10.1" text-anchor="start" fill="#2a2728" textLength="21.80" lengthAdjust="spacingAndGlyphs" >SME</text>
<text x="443.00" y="328.00" font-size="10.1" text-anchor="start" fill="#2a2728" textLength="65.80" lengthAdjust="spacingAndGlyphs" >subpopulation</text>
<text x="443.00" y="343.00" font-size="10.1" text-anchor="start" fill="#2a2728" textLength="34.80" lengthAdjust="spacingAndGlyphs" >Normal</text>
<text x="443.00" y="354.00" font-size="10.1" text-anchor="start" fill="#2a2728" textLength="65.80" lengthAdjust="spacingAndGlyphs" >subpopulation</text>
<text x="11.70" y="433.50" font-size="16" text-anchor="start" fill="#000" font-weight="bold" textLength="9.90" lengthAdjust="spacingAndGlyphs" >E</text>
<line x1="67.70" y1="444.60" x2="67.70" y2="565.00" stroke="#1a1a1a" stroke-width="1.5" />
<line x1="67.70" y1="565.00" x2="187.00" y2="565.00" stroke="#1a1a1a" stroke-width="1.5" />
<line x1="63.80" y1="564.80" x2="67.70" y2="564.80" stroke="#1a1a1a" stroke-width="1.2" />
<text x="60.40" y="568.40" font-size="10.5" text-anchor="end" fill="#2a2728" >0</text>
<line x1="63.80" y1="535.55" x2="67.70" y2="535.55" stroke="#1a1a1a" stroke-width="1.2" />
<text x="60.40" y="539.15" font-size="10.5" text-anchor="end" fill="#2a2728" >10</text>
<line x1="63.80" y1="506.30" x2="67.70" y2="506.30" stroke="#1a1a1a" stroke-width="1.2" />
<text x="60.40" y="509.90" font-size="10.5" text-anchor="end" fill="#2a2728" >20</text>
<line x1="63.80" y1="477.05" x2="67.70" y2="477.05" stroke="#1a1a1a" stroke-width="1.2" />
<text x="60.40" y="480.65" font-size="10.5" text-anchor="end" fill="#2a2728" >30</text>
<line x1="63.80" y1="447.80" x2="67.70" y2="447.80" stroke="#1a1a1a" stroke-width="1.2" />
<text x="60.40" y="451.40" font-size="10.5" text-anchor="end" fill="#2a2728" >40</text>
<line x1="69.83" y1="565.00" x2="69.83" y2="568.60" stroke="#1a1a1a" stroke-width="1.2" />
<line x1="82.00" y1="565.00" x2="82.00" y2="568.60" stroke="#1a1a1a" stroke-width="1.2" />
<line x1="96.60" y1="565.00" x2="96.60" y2="568.60" stroke="#1a1a1a" stroke-width="1.2" />
<line x1="125.80" y1="565.00" x2="125.80" y2="568.60" stroke="#1a1a1a" stroke-width="1.2" />
<line x1="184.21" y1="565.00" x2="184.21" y2="568.60" stroke="#1a1a1a" stroke-width="1.2" />
<text x="67.00" y="582.00" font-size="10.5" text-anchor="start" fill="#2a2728" textLength="6.30" lengthAdjust="spacingAndGlyphs" >5</text>
<text x="76.10" y="582.00" font-size="10.5" text-anchor="start" fill="#2a2728" textLength="12.80" lengthAdjust="spacingAndGlyphs" >30</text>
<text x="90.40" y="582.00" font-size="10.5" text-anchor="start" fill="#2a2728" textLength="12.90" lengthAdjust="spacingAndGlyphs" >60</text>
<text x="117.10" y="582.00" font-size="10.5" text-anchor="start" fill="#2a2728" textLength="17.70" lengthAdjust="spacingAndGlyphs" >120</text>
<text x="174.40" y="582.00" font-size="10.5" text-anchor="start" fill="#2a2728" textLength="18.30" lengthAdjust="spacingAndGlyphs" >240</text>
<text x="66.30" y="600.00" font-size="13.2" text-anchor="start" fill="#2a2728" textLength="123.70" lengthAdjust="spacingAndGlyphs" >Post-transfusion time (min)</text>
<text x="24.60" y="505.20" font-size="13.6" text-anchor="middle" fill="#2a2728" transform="rotate(-90 24.60 505.20)" textLength="60.80" lengthAdjust="spacingAndGlyphs">Proportion of</text>
<text x="40.00" y="504.40" font-size="13.6" text-anchor="middle" fill="#2a2728" transform="rotate(-90 40.00 504.40)" textLength="88.60" lengthAdjust="spacingAndGlyphs">eliminated RBC (%)</text>
<polyline points="70.00,565.00 82.30,549.20 96.60,530.00 125.60,513.60 183.50,483.70" fill="none" stroke="#8b80c8" stroke-width="1.4" stroke-linejoin="round" />
<polyline points="70.00,565.00 82.30,561.50 96.60,564.60 125.60,553.30 183.50,530.90" fill="none" stroke="#4a1a5c" stroke-width="1.7" stroke-linejoin="round" stroke-dasharray="4,3"/>
<line x1="82.50" y1="545.50" x2="82.50" y2="553.00" stroke="#222" stroke-width="1.1" />
<line x1="79.90" y1="545.50" x2="85.10" y2="545.50" stroke="#222" stroke-width="1.1" />
<line x1="79.90" y1="553.00" x2="85.10" y2="553.00" stroke="#222" stroke-width="1.1" />
<line x1="96.50" y1="526.90" x2="96.50" y2="533.10" stroke="#222" stroke-width="1.1" />
<line x1="93.90" y1="526.90" x2="99.10" y2="526.90" stroke="#222" stroke-width="1.1" />
<line x1="93.90" y1="533.10" x2="99.10" y2="533.10" stroke="#222" stroke-width="1.1" />
<line x1="125.50" y1="508.40" x2="125.50" y2="518.30" stroke="#222" stroke-width="1.1" />
<line x1="122.90" y1="508.40" x2="128.10" y2="508.40" stroke="#222" stroke-width="1.1" />
<line x1="122.90" y1="518.30" x2="128.10" y2="518.30" stroke="#222" stroke-width="1.1" />
<line x1="183.50" y1="477.60" x2="183.50" y2="489.40" stroke="#222" stroke-width="1.1" />
<line x1="181.00" y1="477.60" x2="186.00" y2="477.60" stroke="#222" stroke-width="1.1" />
<line x1="181.00" y1="489.40" x2="186.00" y2="489.40" stroke="#222" stroke-width="1.1" />
<line x1="125.50" y1="548.50" x2="125.50" y2="558.00" stroke="#222" stroke-width="1.1" />
<line x1="122.90" y1="548.50" x2="128.10" y2="548.50" stroke="#222" stroke-width="1.1" />
<line x1="122.90" y1="558.00" x2="128.10" y2="558.00" stroke="#222" stroke-width="1.1" />
<line x1="183.50" y1="521.40" x2="183.50" y2="540.40" stroke="#222" stroke-width="1.1" />
<line x1="180.90" y1="521.40" x2="186.10" y2="521.40" stroke="#222" stroke-width="1.1" />
<line x1="180.90" y1="540.40" x2="186.10" y2="540.40" stroke="#222" stroke-width="1.1" />
<rect x="79.60" y="546.50" width="5.4" height="5.4" rx="1.2" fill="#8b80c8"/>
<rect x="93.90" y="527.30" width="5.4" height="5.4" rx="1.2" fill="#8b80c8"/>
<circle cx="125.60" cy="513.60" r="2.9" fill="#8b80c8" stroke="none" stroke-width="0.6"/>
<circle cx="183.50" cy="483.70" r="2.9" fill="#8b80c8" stroke="none" stroke-width="0.6"/>
<circle cx="70.00" cy="565.00" r="2.9" fill="#4a1a5c" stroke="none" stroke-width="0.6"/>
<circle cx="82.30" cy="561.50" r="2.9" fill="#4a1a5c" stroke="none" stroke-width="0.6"/>
<circle cx="96.60" cy="564.60" r="2.9" fill="#4a1a5c" stroke="none" stroke-width="0.6"/>
<circle cx="125.60" cy="553.30" r="2.9" fill="#4a1a5c" stroke="none" stroke-width="0.6"/>
<circle cx="183.50" cy="530.90" r="2.9" fill="#4a1a5c" stroke="none" stroke-width="0.6"/>
<polygon points="94.20,550.10 94.78,551.50 96.29,551.62 95.14,552.61 95.49,554.08 94.20,553.29 92.91,554.08 93.26,552.61 92.11,551.62 93.62,551.50" fill="#2a2a2a"/>
<polygon points="99.20,550.10 99.78,551.50 101.29,551.62 100.14,552.61 100.49,554.08 99.20,553.29 97.91,554.08 98.26,552.61 97.11,551.62 98.62,551.50" fill="#2a2a2a"/>
<polygon points="119.20,539.00 119.78,540.40 121.29,540.52 120.14,541.51 120.49,542.98 119.20,542.19 117.91,542.98 118.26,541.51 117.11,540.52 118.62,540.40" fill="#2a2a2a"/>
<polygon points="123.67,539.00 124.25,540.40 125.76,540.52 124.61,541.51 124.96,542.98 123.67,542.19 122.37,542.98 122.73,541.51 121.57,540.52 123.08,540.40" fill="#2a2a2a"/>
<polygon points="128.13,539.00 128.72,540.40 130.23,540.52 129.07,541.51 129.43,542.98 128.13,542.19 126.84,542.98 127.19,541.51 126.04,540.52 127.55,540.40" fill="#2a2a2a"/>
<polygon points="132.60,539.00 133.18,540.40 134.69,540.52 133.54,541.51 133.89,542.98 132.60,542.19 131.31,542.98 131.66,541.51 130.51,540.52 132.02,540.40" fill="#2a2a2a"/>
<polygon points="176.80,514.20 177.38,515.60 178.89,515.72 177.74,516.71 178.09,518.18 176.80,517.39 175.51,518.18 175.86,516.71 174.71,515.72 176.22,515.60" fill="#2a2a2a"/>
<polygon points="181.23,514.20 181.82,515.60 183.33,515.72 182.17,516.71 182.53,518.18 181.23,517.39 179.94,518.18 180.29,516.71 179.14,515.72 180.65,515.60" fill="#2a2a2a"/>
<polygon points="185.67,514.20 186.25,515.60 187.76,515.72 186.61,516.71 186.96,518.18 185.67,517.39 184.37,518.18 184.73,516.71 183.57,515.72 185.08,515.60" fill="#2a2a2a"/>
<polygon points="190.10,514.20 190.68,515.60 192.19,515.72 191.04,516.71 191.39,518.18 190.10,517.39 188.81,518.18 189.16,516.71 188.01,515.72 189.52,515.60" fill="#2a2a2a"/>
<line x1="75.00" y1="456.10" x2="87.30" y2="456.10" stroke="#4a1a5c" stroke-width="1.3" />
<circle cx="81.50" cy="456.10" r="2.5" fill="#4a1a5c" stroke="none" stroke-width="0.6"/>
<line x1="75.00" y1="471.50" x2="87.30" y2="471.50" stroke="#8b80c8" stroke-width="1.3" />
<circle cx="81.50" cy="471.50" r="2.5" fill="#8b80c8" stroke="none" stroke-width="0.6"/>
<text x="91.10" y="460.00" font-size="11.2" text-anchor="start" fill="#2a2728" textLength="88.20" lengthAdjust="spacingAndGlyphs" >Clodronate-treated</text>
<text x="91.10" y="475.00" font-size="11.2" text-anchor="start" fill="#2a2728" textLength="35.10" lengthAdjust="spacingAndGlyphs" >Control</text>
<text x="236.60" y="433.50" font-size="16" text-anchor="start" fill="#000" font-weight="bold" textLength="9.30" lengthAdjust="spacingAndGlyphs" >F</text>
<line x1="290.70" y1="443.50" x2="290.70" y2="564.40" stroke="#1a1a1a" stroke-width="1.5" />
<line x1="290.70" y1="564.40" x2="410.60" y2="564.40" stroke="#1a1a1a" stroke-width="1.5" />
<line x1="286.80" y1="564.40" x2="290.70" y2="564.40" stroke="#1a1a1a" stroke-width="1.2" />
<text x="282.70" y="568.00" font-size="10.5" text-anchor="end" fill="#2a2728" >0</text>
<line x1="286.80" y1="535.12" x2="290.70" y2="535.12" stroke="#1a1a1a" stroke-width="1.2" />
<text x="282.70" y="538.72" font-size="10.5" text-anchor="end" fill="#2a2728" >1</text>
<line x1="286.80" y1="505.84" x2="290.70" y2="505.84" stroke="#1a1a1a" stroke-width="1.2" />
<text x="282.70" y="509.44" font-size="10.5" text-anchor="end" fill="#2a2728" >2</text>
<line x1="286.80" y1="476.56" x2="290.70" y2="476.56" stroke="#1a1a1a" stroke-width="1.2" />
<text x="282.70" y="480.16" font-size="10.5" text-anchor="end" fill="#2a2728" >3</text>
<line x1="286.80" y1="447.28" x2="290.70" y2="447.28" stroke="#1a1a1a" stroke-width="1.2" />
<text x="282.70" y="450.88" font-size="10.5" text-anchor="end" fill="#2a2728" >4</text>
<line x1="293.02" y1="564.40" x2="293.02" y2="568.00" stroke="#1a1a1a" stroke-width="1.2" />
<line x1="305.10" y1="564.40" x2="305.10" y2="568.00" stroke="#1a1a1a" stroke-width="1.2" />
<line x1="319.60" y1="564.40" x2="319.60" y2="568.00" stroke="#1a1a1a" stroke-width="1.2" />
<line x1="348.60" y1="564.40" x2="348.60" y2="568.00" stroke="#1a1a1a" stroke-width="1.2" />
<line x1="406.59" y1="564.40" x2="406.59" y2="568.00" stroke="#1a1a1a" stroke-width="1.2" />
<text x="289.90" y="582.00" font-size="10.5" text-anchor="start" fill="#2a2728" textLength="6.20" lengthAdjust="spacingAndGlyphs" >5</text>
<text x="298.70" y="582.00" font-size="10.5" text-anchor="start" fill="#2a2728" textLength="13.30" lengthAdjust="spacingAndGlyphs" >30</text>
<text x="313.20" y="582.00" font-size="10.5" text-anchor="start" fill="#2a2728" textLength="12.90" lengthAdjust="spacingAndGlyphs" >60</text>
<text x="339.80" y="582.00" font-size="10.5" text-anchor="start" fill="#2a2728" textLength="17.70" lengthAdjust="spacingAndGlyphs" >120</text>
<text x="396.30" y="582.00" font-size="10.5" text-anchor="start" fill="#2a2728" textLength="18.60" lengthAdjust="spacingAndGlyphs" >240</text>
<text x="289.20" y="600.00" font-size="13.2" text-anchor="start" fill="#2a2728" textLength="124.10" lengthAdjust="spacingAndGlyphs" >Post-transfusion time (min)</text>
<text x="268.80" y="503.50" font-size="13.6" text-anchor="middle" fill="#2a2728" transform="rotate(-90 268.80 503.50)" textLength="99.20" lengthAdjust="spacingAndGlyphs">Enrichment factor (%)</text>
<rect x="291.0" y="521.9" width="2.9" height="24" fill="#a8a8a8" stroke="#555" stroke-width="0.5"/>
<line x1="290.50" y1="521.90" x2="295.70" y2="521.90" stroke="#222" stroke-width="1.1" />
<line x1="290.50" y1="545.90" x2="295.70" y2="545.90" stroke="#222" stroke-width="1.1" />
<line x1="319.50" y1="525.20" x2="319.50" y2="531.70" stroke="#222" stroke-width="1.1" />
<line x1="317.10" y1="525.20" x2="321.90" y2="525.20" stroke="#222" stroke-width="1.1" />
<line x1="317.10" y1="531.70" x2="321.90" y2="531.70" stroke="#222" stroke-width="1.1" />
<line x1="348.50" y1="508.60" x2="348.50" y2="521.90" stroke="#222" stroke-width="1.1" />
<line x1="345.90" y1="508.60" x2="351.10" y2="508.60" stroke="#222" stroke-width="1.1" />
<line x1="345.90" y1="521.90" x2="351.10" y2="521.90" stroke="#222" stroke-width="1.1" />
<line x1="406.50" y1="498.20" x2="406.50" y2="508.60" stroke="#222" stroke-width="1.1" />
<line x1="403.90" y1="498.20" x2="409.10" y2="498.20" stroke="#222" stroke-width="1.1" />
<line x1="403.90" y1="508.60" x2="409.10" y2="508.60" stroke="#222" stroke-width="1.1" />
<line x1="406.50" y1="538.30" x2="406.50" y2="542.80" stroke="#222" stroke-width="1.1" />
<line x1="403.90" y1="542.80" x2="409.10" y2="542.80" stroke="#222" stroke-width="1.1" />
<polyline points="293.02,535.30 305.10,535.80 319.60,536.80 348.60,538.30 406.59,538.30" fill="none" stroke="#2c5496" stroke-width="1.8" stroke-linejoin="round" />
<polyline points="293.02,532.70 305.10,534.60 319.60,536.30 348.60,534.20 406.59,534.20" fill="none" stroke="#e8961c" stroke-width="1.8" stroke-linejoin="round" />
<polyline points="293.02,534.00 305.10,527.50 319.60,528.60 348.60,515.50 406.59,503.40" fill="none" stroke="#ad0f38" stroke-width="1.8" stroke-linejoin="round" />
<circle cx="293.02" cy="535.30" r="2.9" fill="#2c5496" stroke="none" stroke-width="0.6"/>
<circle cx="305.10" cy="535.80" r="2.9" fill="#2c5496" stroke="none" stroke-width="0.6"/>
<circle cx="319.60" cy="536.80" r="2.9" fill="#2c5496" stroke="none" stroke-width="0.6"/>
<circle cx="348.60" cy="538.30" r="2.9" fill="#2c5496" stroke="none" stroke-width="0.6"/>
<circle cx="406.59" cy="538.30" r="2.9" fill="#2c5496" stroke="none" stroke-width="0.6"/>
<circle cx="293.02" cy="534.40" r="2.9" fill="#ad0f38" stroke="none" stroke-width="0.6"/>
<circle cx="293.02" cy="532.70" r="2.9" fill="#e8961c" stroke="none" stroke-width="0.6"/>
<circle cx="305.10" cy="534.60" r="2.9" fill="#e8961c" stroke="none" stroke-width="0.6"/>
<circle cx="319.60" cy="536.30" r="2.9" fill="#e8961c" stroke="none" stroke-width="0.6"/>
<circle cx="348.60" cy="534.20" r="2.9" fill="#e8961c" stroke="none" stroke-width="0.6"/>
<circle cx="406.59" cy="534.20" r="2.9" fill="#e8961c" stroke="none" stroke-width="0.6"/>
<circle cx="305.10" cy="527.50" r="2.9" fill="#ad0f38" stroke="none" stroke-width="0.6"/>
<circle cx="319.60" cy="528.60" r="2.9" fill="#ad0f38" stroke="none" stroke-width="0.6"/>
<circle cx="348.60" cy="515.50" r="2.9" fill="#ad0f38" stroke="none" stroke-width="0.6"/>
<circle cx="406.59" cy="503.40" r="2.9" fill="#ad0f38" stroke="none" stroke-width="0.6"/>
<line x1="427.70" y1="498.10" x2="441.50" y2="498.10" stroke="#ad0f38" stroke-width="1.8" />
<circle cx="434.80" cy="498.10" r="2.1" fill="#ad0f38" stroke="none" stroke-width="0.6"/>
<line x1="427.70" y1="512.70" x2="441.50" y2="512.70" stroke="#e8961c" stroke-width="1.8" />
<circle cx="434.80" cy="512.70" r="2.1" fill="#e8961c" stroke="none" stroke-width="0.6"/>
<line x1="427.70" y1="527.50" x2="441.50" y2="527.50" stroke="#2c5496" stroke-width="1.8" />
<circle cx="434.80" cy="527.50" r="2.1" fill="#2c5496" stroke="none" stroke-width="0.6"/>
<text x="445.20" y="501.00" font-size="10.3" text-anchor="start" fill="#2a2728" textLength="31.90" lengthAdjust="spacingAndGlyphs" >Spleen</text>
<text x="445.20" y="516.00" font-size="10.3" text-anchor="start" fill="#2a2728" textLength="22.30" lengthAdjust="spacingAndGlyphs" >Liver</text>
<text x="445.20" y="531.00" font-size="10.3" text-anchor="start" fill="#2a2728" textLength="61.20" lengthAdjust="spacingAndGlyphs" >Bone marrow</text>
<text x="11.20" y="612.30" font-size="16" text-anchor="start" fill="#000" font-weight="bold" textLength="12.70" lengthAdjust="spacingAndGlyphs" >G</text>
<text x="34.30" y="623.40" font-size="12" text-anchor="start" fill="#000" font-weight="bold" >i</text>
<text x="247.40" y="623.40" font-size="12" text-anchor="start" fill="#000" font-weight="bold" >ii</text>
<line x1="67.90" y1="639.20" x2="67.90" y2="759.90" stroke="#1a1a1a" stroke-width="1.5" />
<line x1="67.90" y1="759.90" x2="187.70" y2="759.90" stroke="#1a1a1a" stroke-width="1.5" />
<line x1="63.90" y1="759.80" x2="67.90" y2="759.80" stroke="#1a1a1a" stroke-width="1.2" />
<text x="59.80" y="763.40" font-size="10.5" text-anchor="end" fill="#2a2728" >0</text>
<line x1="63.90" y1="736.34" x2="67.90" y2="736.34" stroke="#1a1a1a" stroke-width="1.2" />
<text x="59.80" y="739.94" font-size="10.5" text-anchor="end" fill="#2a2728" >10000</text>
<line x1="63.90" y1="712.88" x2="67.90" y2="712.88" stroke="#1a1a1a" stroke-width="1.2" />
<text x="59.80" y="716.48" font-size="10.5" text-anchor="end" fill="#2a2728" >20000</text>
<line x1="63.90" y1="689.42" x2="67.90" y2="689.42" stroke="#1a1a1a" stroke-width="1.2" />
<text x="59.80" y="693.02" font-size="10.5" text-anchor="end" fill="#2a2728" >30000</text>
<line x1="63.90" y1="665.96" x2="67.90" y2="665.96" stroke="#1a1a1a" stroke-width="1.2" />
<text x="59.80" y="669.56" font-size="10.5" text-anchor="end" fill="#2a2728" >40000</text>
<line x1="63.90" y1="642.50" x2="67.90" y2="642.50" stroke="#1a1a1a" stroke-width="1.2" />
<text x="59.80" y="646.10" font-size="10.5" text-anchor="end" fill="#2a2728" >50000</text>
<line x1="70.49" y1="759.90" x2="70.49" y2="763.80" stroke="#1a1a1a" stroke-width="1.2" />
<line x1="82.60" y1="759.90" x2="82.60" y2="763.80" stroke="#1a1a1a" stroke-width="1.2" />
<line x1="126.20" y1="759.90" x2="126.20" y2="763.80" stroke="#1a1a1a" stroke-width="1.2" />
<line x1="184.32" y1="759.90" x2="184.32" y2="763.80" stroke="#1a1a1a" stroke-width="1.2" />
<text x="67.20" y="778.00" font-size="10.5" text-anchor="start" fill="#2a2728" textLength="5.90" lengthAdjust="spacingAndGlyphs" >5</text>
<text x="75.00" y="778.00" font-size="10.5" text-anchor="start" fill="#2a2728" textLength="13.10" lengthAdjust="spacingAndGlyphs" >30</text>
<text x="117.10" y="778.00" font-size="10.5" text-anchor="start" fill="#2a2728" textLength="18.00" lengthAdjust="spacingAndGlyphs" >120</text>
<text x="175.30" y="778.00" font-size="10.5" text-anchor="start" fill="#2a2728" textLength="18.40" lengthAdjust="spacingAndGlyphs" >240</text>
<text x="67.00" y="795.00" font-size="13.2" text-anchor="start" fill="#2a2728" textLength="124.20" lengthAdjust="spacingAndGlyphs" >Post-transfusion time (min)</text>
<line x1="291.00" y1="640.00" x2="291.00" y2="759.90" stroke="#1a1a1a" stroke-width="1.5" />
<line x1="291.00" y1="759.90" x2="410.00" y2="759.90" stroke="#1a1a1a" stroke-width="1.5" />
<line x1="287.00" y1="759.80" x2="291.00" y2="759.80" stroke="#1a1a1a" stroke-width="1.2" />
<text x="282.40" y="763.40" font-size="10.5" text-anchor="end" fill="#2a2728" >0</text>
<line x1="287.00" y1="736.34" x2="291.00" y2="736.34" stroke="#1a1a1a" stroke-width="1.2" />
<text x="282.40" y="739.94" font-size="10.5" text-anchor="end" fill="#2a2728" >10000</text>
<line x1="287.00" y1="712.88" x2="291.00" y2="712.88" stroke="#1a1a1a" stroke-width="1.2" />
<text x="282.40" y="716.48" font-size="10.5" text-anchor="end" fill="#2a2728" >20000</text>
<line x1="287.00" y1="689.42" x2="291.00" y2="689.42" stroke="#1a1a1a" stroke-width="1.2" />
<text x="282.40" y="693.02" font-size="10.5" text-anchor="end" fill="#2a2728" >30000</text>
<line x1="287.00" y1="665.96" x2="291.00" y2="665.96" stroke="#1a1a1a" stroke-width="1.2" />
<text x="282.40" y="669.56" font-size="10.5" text-anchor="end" fill="#2a2728" >40000</text>
<line x1="287.00" y1="642.50" x2="291.00" y2="642.50" stroke="#1a1a1a" stroke-width="1.2" />
<text x="282.40" y="646.10" font-size="10.5" text-anchor="end" fill="#2a2728" >50000</text>
<line x1="292.92" y1="759.90" x2="292.92" y2="763.80" stroke="#1a1a1a" stroke-width="1.2" />
<line x1="305.00" y1="759.90" x2="305.00" y2="763.80" stroke="#1a1a1a" stroke-width="1.2" />
<line x1="348.50" y1="759.90" x2="348.50" y2="763.80" stroke="#1a1a1a" stroke-width="1.2" />
<line x1="406.49" y1="759.90" x2="406.49" y2="763.80" stroke="#1a1a1a" stroke-width="1.2" />
<text x="289.90" y="777.00" font-size="10.5" text-anchor="start" fill="#2a2728" textLength="5.90" lengthAdjust="spacingAndGlyphs" >5</text>
<text x="297.90" y="777.00" font-size="10.5" text-anchor="start" fill="#2a2728" textLength="14.10" lengthAdjust="spacingAndGlyphs" >30</text>
<text x="339.80" y="777.00" font-size="10.5" text-anchor="start" fill="#2a2728" textLength="18.30" lengthAdjust="spacingAndGlyphs" >120</text>
<text x="397.50" y="777.00" font-size="10.5" text-anchor="start" fill="#2a2728" textLength="18.90" lengthAdjust="spacingAndGlyphs" >240</text>
<text x="289.30" y="795.00" font-size="13.2" text-anchor="start" fill="#2a2728" textLength="124.20" lengthAdjust="spacingAndGlyphs" >Post-transfusion time (min)</text>
<text x="22.40" y="699.40" font-size="13.6" text-anchor="middle" fill="#2a2728" transform="rotate(-90 22.40 699.40)" textLength="105.30" lengthAdjust="spacingAndGlyphs">Increase in MFI of CFSE</text>
<text x="107.70" y="640.00" font-size="13.6" text-anchor="start" fill="#2a2728" textLength="40.50" lengthAdjust="spacingAndGlyphs" >Spleen</text>
<text x="336.60" y="640.00" font-size="13.6" text-anchor="start" fill="#2a2728" textLength="28.00" lengthAdjust="spacingAndGlyphs" >Liver</text>
<line x1="82.50" y1="732.30" x2="82.50" y2="751.50" stroke="#222" stroke-width="1.1" />
<line x1="80.00" y1="732.30" x2="85.00" y2="732.30" stroke="#222" stroke-width="1.1" />
<line x1="80.00" y1="751.50" x2="85.00" y2="751.50" stroke="#222" stroke-width="1.1" />
<line x1="126.50" y1="740.00" x2="126.50" y2="750.50" stroke="#222" stroke-width="1.1" />
<line x1="124.00" y1="740.00" x2="129.00" y2="740.00" stroke="#222" stroke-width="1.1" />
<line x1="124.00" y1="750.50" x2="129.00" y2="750.50" stroke="#222" stroke-width="1.1" />
<polyline points="70.49,754.20 82.60,757.40 126.20,757.90 184.32,756.90" fill="none" stroke="#e8961c" stroke-width="1.6" stroke-linejoin="round" />
<polyline points="70.49,757.70 82.60,754.30 126.20,752.60 184.32,754.60" fill="none" stroke="#2c5191" stroke-width="1.6" stroke-linejoin="round" />
<polyline points="70.49,756.00 82.60,741.50 126.20,745.40 184.32,749.20" fill="none" stroke="#4e1a6a" stroke-width="1.6" stroke-linejoin="round" />
<circle cx="70.49" cy="757.70" r="2.9" fill="#2c5191" stroke="none" stroke-width="0.6"/>
<circle cx="82.60" cy="754.30" r="2.9" fill="#2c5191" stroke="none" stroke-width="0.6"/>
<circle cx="126.20" cy="752.60" r="2.9" fill="#2c5191" stroke="none" stroke-width="0.6"/>
<circle cx="184.32" cy="754.60" r="2.9" fill="#2c5191" stroke="none" stroke-width="0.6"/>
<circle cx="70.49" cy="756.00" r="2.9" fill="#4e1a6a" stroke="none" stroke-width="0.6"/>
<circle cx="82.60" cy="741.50" r="2.9" fill="#4e1a6a" stroke="none" stroke-width="0.6"/>
<circle cx="126.20" cy="745.40" r="2.9" fill="#4e1a6a" stroke="none" stroke-width="0.6"/>
<circle cx="184.32" cy="749.20" r="2.9" fill="#4e1a6a" stroke="none" stroke-width="0.6"/>
<circle cx="70.49" cy="754.20" r="2.9" fill="#e8961c" stroke="none" stroke-width="0.6"/>
<circle cx="82.60" cy="757.40" r="2.9" fill="#e8961c" stroke="none" stroke-width="0.6"/>
<circle cx="126.20" cy="757.90" r="2.9" fill="#e8961c" stroke="none" stroke-width="0.6"/>
<circle cx="184.32" cy="756.90" r="2.9" fill="#e8961c" stroke="none" stroke-width="0.6"/>
<line x1="305.50" y1="652.10" x2="305.50" y2="754.80" stroke="#222" stroke-width="1.1" />
<line x1="302.80" y1="652.10" x2="308.20" y2="652.10" stroke="#222" stroke-width="1.1" />
<line x1="302.80" y1="754.80" x2="308.20" y2="754.80" stroke="#222" stroke-width="1.1" />
<line x1="305.50" y1="732.70" x2="305.50" y2="745.80" stroke="#222" stroke-width="1.1" />
<line x1="302.80" y1="732.70" x2="308.20" y2="732.70" stroke="#222" stroke-width="1.1" />
<line x1="302.80" y1="745.80" x2="308.20" y2="745.80" stroke="#222" stroke-width="1.1" />
<line x1="302.50" y1="690.40" x2="308.50" y2="690.40" stroke="#222" stroke-width="1.1" />
<line x1="348.50" y1="697.40" x2="348.50" y2="747.30" stroke="#222" stroke-width="1.1" />
<line x1="345.80" y1="697.40" x2="351.20" y2="697.40" stroke="#222" stroke-width="1.1" />
<line x1="345.80" y1="747.30" x2="351.20" y2="747.30" stroke="#222" stroke-width="1.1" />
<line x1="348.50" y1="710.20" x2="348.50" y2="737.60" stroke="#222" stroke-width="1.1" />
<line x1="345.80" y1="710.20" x2="351.20" y2="710.20" stroke="#222" stroke-width="1.1" />
<line x1="345.80" y1="737.60" x2="351.20" y2="737.60" stroke="#222" stroke-width="1.1" />
<line x1="406.50" y1="740.80" x2="406.50" y2="756.20" stroke="#222" stroke-width="1.1" />
<line x1="403.90" y1="740.80" x2="409.10" y2="740.80" stroke="#222" stroke-width="1.1" />
<line x1="403.90" y1="756.20" x2="409.10" y2="756.20" stroke="#222" stroke-width="1.1" />
<line x1="403.60" y1="748.90" x2="408.80" y2="748.90" stroke="#231f20" stroke-width="1.1" />
<polyline points="292.92,748.40 305.00,750.50 348.50,742.60 406.49,744.90" fill="none" stroke="#e8961c" stroke-width="1.6" stroke-linejoin="round" />
<polyline points="292.92,753.70 305.00,719.80 348.50,722.20 406.49,750.80" fill="none" stroke="#2c5191" stroke-width="1.6" stroke-linejoin="round" />
<polyline points="292.92,744.00 305.00,692.40 348.50,727.00 406.49,752.30" fill="none" stroke="#4e1a6a" stroke-width="1.6" stroke-linejoin="round" />
<circle cx="292.92" cy="753.70" r="2.9" fill="#2c5191" stroke="none" stroke-width="0.6"/>
<circle cx="305.00" cy="719.80" r="2.9" fill="#2c5191" stroke="none" stroke-width="0.6"/>
<circle cx="348.50" cy="722.20" r="2.9" fill="#2c5191" stroke="none" stroke-width="0.6"/>
<circle cx="406.49" cy="750.80" r="2.9" fill="#2c5191" stroke="none" stroke-width="0.6"/>
<circle cx="292.92" cy="744.00" r="2.9" fill="#4e1a6a" stroke="none" stroke-width="0.6"/>
<circle cx="305.00" cy="692.40" r="2.9" fill="#4e1a6a" stroke="none" stroke-width="0.6"/>
<circle cx="348.50" cy="727.00" r="2.9" fill="#4e1a6a" stroke="none" stroke-width="0.6"/>
<circle cx="406.49" cy="752.30" r="2.9" fill="#4e1a6a" stroke="none" stroke-width="0.6"/>
<circle cx="292.92" cy="748.40" r="2.9" fill="#e8961c" stroke="none" stroke-width="0.6"/>
<circle cx="305.00" cy="750.50" r="2.9" fill="#e8961c" stroke="none" stroke-width="0.6"/>
<circle cx="348.50" cy="742.60" r="2.9" fill="#e8961c" stroke="none" stroke-width="0.6"/>
<circle cx="406.49" cy="744.90" r="2.9" fill="#e8961c" stroke="none" stroke-width="0.6"/>
<line x1="427.70" y1="692.50" x2="441.50" y2="692.50" stroke="#4e1a6a" stroke-width="1.8" />
<circle cx="434.80" cy="692.50" r="2.1" fill="#4e1a6a" stroke="none" stroke-width="0.6"/>
<line x1="427.70" y1="713.30" x2="441.50" y2="713.30" stroke="#2c5191" stroke-width="1.8" />
<circle cx="434.80" cy="713.30" r="2.1" fill="#2c5191" stroke="none" stroke-width="0.6"/>
<line x1="427.70" y1="727.70" x2="441.50" y2="727.70" stroke="#e8961c" stroke-width="1.8" />
<circle cx="434.80" cy="727.70" r="2.1" fill="#e8961c" stroke="none" stroke-width="0.6"/>
<text x="445.50" y="690.00" font-size="10.3" text-anchor="start" fill="#2a2728" textLength="59.90" lengthAdjust="spacingAndGlyphs" >Inflammatory</text>
<text x="445.50" y="702.00" font-size="10.3" text-anchor="start" fill="#2a2728" textLength="49.90" lengthAdjust="spacingAndGlyphs" >monocytes</text>
<text x="445.50" y="717.00" font-size="10.3" text-anchor="start" fill="#2a2728" textLength="50.30" lengthAdjust="spacingAndGlyphs" >Monocytes</text>
<text x="445.50" y="731.00" font-size="10.3" text-anchor="start" fill="#2a2728" textLength="59.90" lengthAdjust="spacingAndGlyphs" >Granulocytes</text>
<rect x="0.75" y="0.75" width="518.5" height="804.5" fill="none" stroke="#000" stroke-width="1.5"/>
</svg>
</body></html>
